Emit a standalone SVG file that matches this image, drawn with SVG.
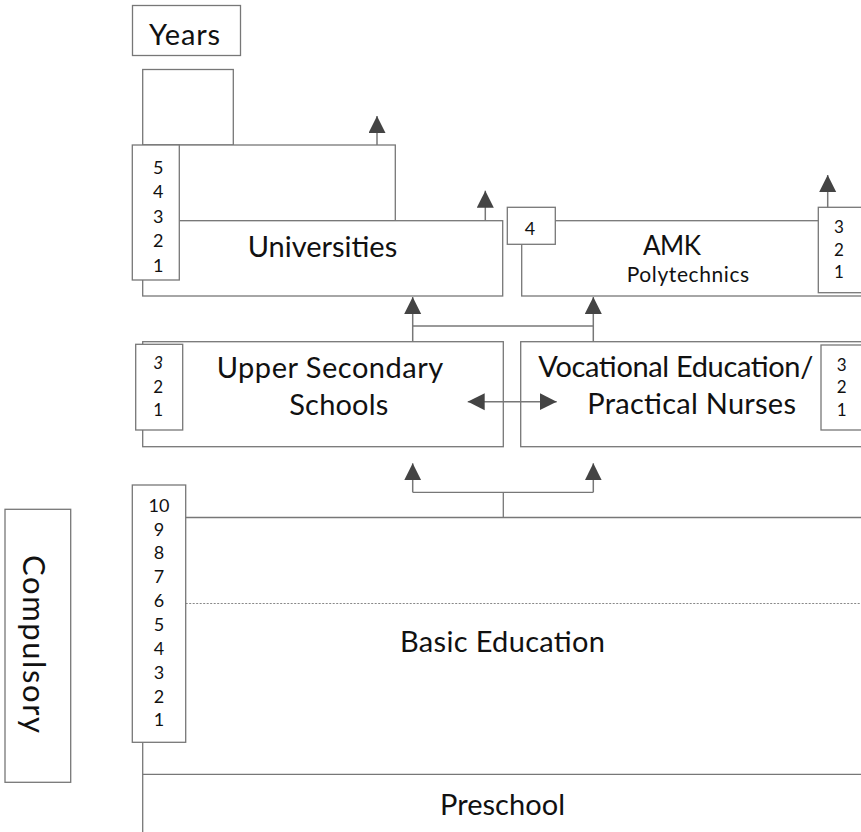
<svg xmlns="http://www.w3.org/2000/svg" width="861" height="832" viewBox="0 0 861 832">
  <style>
    .box { fill: #fff; stroke: #777; stroke-width: 1.3; }
    .line { fill: none; stroke: #777; stroke-width: 1.3; }
    .dash { fill: none; stroke: #888; stroke-width: 1; stroke-dasharray: 2 1.5; }
    .arrow { fill: none; stroke: #777; stroke-width: 1.5; marker-end: url(#head); }
    .arrow2 { fill: none; stroke: #777; stroke-width: 1.5; marker-start: url(#headStart); marker-end: url(#head); }
    text { font-family: Lato, "Noto Sans", sans-serif; fill: #111; }
    .lbl { font-size: 29px; text-anchor: start; }
    .num { font-size: 18px; text-anchor: middle; }
    .sm { font-size: 17px; text-anchor: middle; }
  </style>
  <defs>
    <marker id="head" markerUnits="userSpaceOnUse" markerWidth="18" markerHeight="18" refX="17" refY="8.5" orient="auto">
      <path d="M0,0 L17,8.5 L0,17 Z" fill="#444"/>
    </marker>
    <marker id="headStart" markerUnits="userSpaceOnUse" markerWidth="18" markerHeight="18" refX="0" refY="8.5" orient="auto">
      <path d="M17,0 L0,8.5 L17,17 Z" fill="#444"/>
    </marker>
  </defs>

  <!-- header -->
  <g id="years">
    <rect class="box" x="132.5" y="5.5" width="108" height="50"/>
    <text class="lbl" x="149" y="44.5" textLength="71" lengthAdjust="spacing">Years</text>
  </g>

  <!-- university blocks -->
  <g id="postgrad">
    <rect class="box" x="142.7" y="69.5" width="90.6" height="75.5"/>
  </g>
  <g id="master">
    <rect class="box" x="142.7" y="145" width="252.6" height="75.7"/>
  </g>
  <g id="universities">
    <rect class="box" x="142.7" y="220.7" width="360" height="75.3"/>
    <text class="lbl" x="247.7" y="256.7" textLength="149.5" lengthAdjust="spacing">Universities</text>
  </g>
  <g id="uni-years">
    <rect class="box" x="132.3" y="145" width="47" height="135"/>
    <text class="num" x="158.3" y="173.5">5</text>
    <text class="num" x="158.3" y="198">4</text>
    <text class="num" x="158.3" y="222.5">3</text>
    <text class="num" x="158.3" y="247">2</text>
    <text class="num" x="158.3" y="271.5">1</text>
  </g>

  <!-- polytechnics -->
  <g id="amk">
    <rect class="box" x="521.7" y="220.7" width="350" height="75.3"/>
    <text x="643" y="255" style="font-size:26px" textLength="58" lengthAdjust="spacing">AMK</text>
    <text x="626.7" y="281.7" style="font-size:21px" textLength="122.5" lengthAdjust="spacing">Polytechnics</text>
  </g>
  <g id="amk-master">
    <rect class="box" x="507.3" y="207.3" width="48" height="37"/>
    <text class="num" x="530" y="235">4</text>
  </g>
  <g id="amk-years">
    <rect class="box" x="818.3" y="207.3" width="52" height="85.4"/>
    <text class="sm" x="839" y="232.7">3</text>
    <text class="sm" x="839" y="255.5">2</text>
    <text class="sm" x="839" y="278.3">1</text>
  </g>

  <!-- secondary level -->
  <g id="upper-secondary">
    <rect class="box" x="142.7" y="341.7" width="360.6" height="105"/>
    <text class="lbl" x="216.7" y="378.3" textLength="226.5" lengthAdjust="spacing">Upper Secondary</text>
    <text class="lbl" x="289.3" y="415" textLength="99" lengthAdjust="spacing">Schools</text>
  </g>
  <g id="upper-secondary-years">
    <rect class="box" x="135.7" y="344.3" width="47" height="85.7"/>
    <text class="sm" x="158.3" y="369" style="font-style:italic">3</text>
    <text class="sm" x="158.3" y="392.5">2</text>
    <text class="sm" x="158.3" y="416">1</text>
  </g>
  <g id="vocational">
    <rect class="box" x="520.7" y="341.7" width="350" height="105"/>
    <text class="lbl" x="538.3" y="377.3" textLength="275" lengthAdjust="spacing">Vocational Education/</text>
    <text class="lbl" x="587.3" y="414" textLength="208.7" lengthAdjust="spacing">Practical Nurses</text>
  </g>
  <g id="vocational-years">
    <rect class="box" x="821" y="345" width="50" height="85"/>
    <text class="sm" x="841.7" y="370.5">3</text>
    <text class="sm" x="841.7" y="393">2</text>
    <text class="sm" x="841.7" y="416">1</text>
  </g>

  <!-- basic education and preschool -->
  <g id="basic-education">
    <line class="line" x1="142.7" y1="517.5" x2="861" y2="517.5"/>
    <line class="dash" x1="185.7" y1="603.5" x2="861" y2="603.5"/>
    <text class="lbl" x="400" y="651.7" textLength="205" lengthAdjust="spacing">Basic Education</text>
  </g>
  <g id="preschool">
    <line class="line" x1="142.7" y1="517.5" x2="142.7" y2="832"/>
    <line class="line" x1="142.7" y1="774.3" x2="861" y2="774.3"/>
    <text class="lbl" x="440" y="815" textLength="125" lengthAdjust="spacing">Preschool</text>
  </g>
  <g id="basic-years">
    <rect class="box" x="132.3" y="485" width="53.4" height="257.3"/>
    <text class="num" x="159" y="511.7">10</text>
    <text class="num" x="159" y="535.5">9</text>
    <text class="num" x="159" y="559.3">8</text>
    <text class="num" x="159" y="583">7</text>
    <text class="num" x="159" y="607">6</text>
    <text class="num" x="159" y="631">5</text>
    <text class="num" x="159" y="654.5">4</text>
    <text class="num" x="159" y="678.5">3</text>
    <text class="num" x="159" y="702.5">2</text>
    <text class="num" x="159" y="726">1</text>
  </g>
  <g id="compulsory">
    <rect class="box" x="5" y="509.3" width="65.7" height="273"/>
    <text transform="translate(35,644) rotate(90)" style="font-size:31px" text-anchor="middle" dominant-baseline="central" textLength="178" lengthAdjust="spacing">Compulsory</text>
  </g>

  <!-- connectors -->
  <g id="connectors">
    <path class="arrow" d="M377,145 V116"/>
    <path class="arrow" d="M485.3,220.7 V190.7"/>
    <path class="arrow" d="M827.7,207.3 V175"/>
    <path class="line" d="M412.7,326 H593.3"/>
    <path class="arrow" d="M412.7,341.7 V297"/>
    <path class="arrow" d="M593.3,341.7 V297"/>
    <path class="arrow2" d="M467.7,401.7 H556.7"/>
    <path class="line" d="M503.3,517.5 V492.3 M412.7,492.3 H593.3"/>
    <path class="arrow" d="M412.7,492.3 V463.3"/>
    <path class="arrow" d="M593.3,492.3 V463.3"/>
  </g>
</svg>
